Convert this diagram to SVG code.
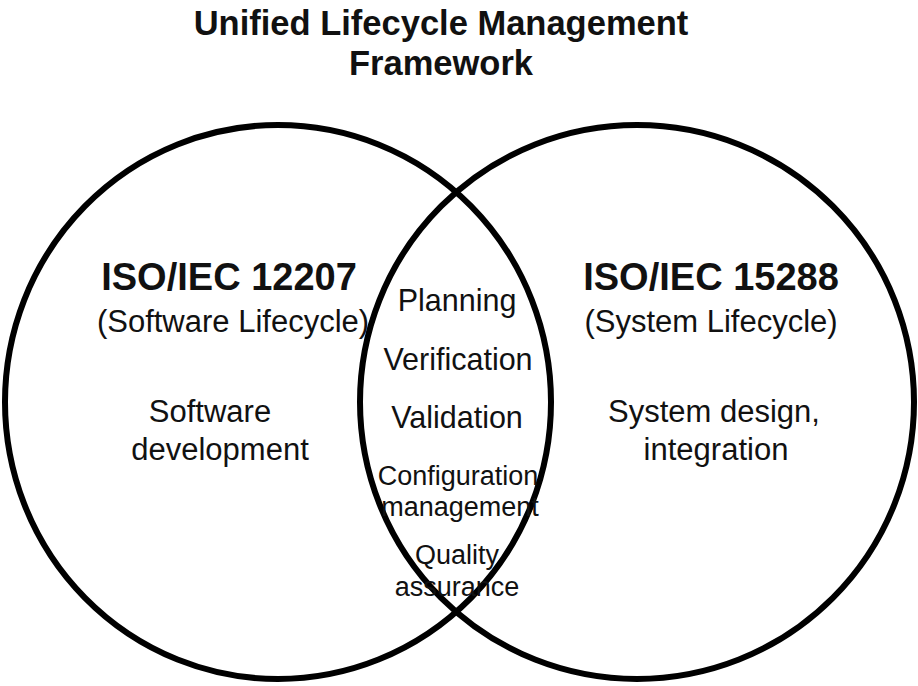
<svg xmlns="http://www.w3.org/2000/svg" width="918" height="686" viewBox="0 0 918 686">
  <style>
    text { font-family: "Liberation Sans", Arial, sans-serif; fill: #111; text-anchor: middle; }
    .title { font-size: 34.5px; font-weight: bold; }
    .std { font-size: 38px; font-weight: bold; }
    .sub { font-size: 31px; }
    .item { font-size: 30.5px; }
    .small { font-size: 27px; }
    .ring { fill: none; stroke: #000; stroke-width: 6; }
  </style>
  <rect width="918" height="686" fill="#fff"/>

  <g id="title">
    <text class="title" x="441" y="35">Unified Lifecycle Management</text>
    <text class="title" x="441" y="75">Framework</text>
  </g>

  <g id="shapes">
    <ellipse id="ring-software" class="ring" cx="278" cy="402" rx="273" ry="277"/>
    <ellipse id="ring-system" class="ring" cx="637" cy="402" rx="277" ry="277"/>
  </g>

  <g id="iso12207">
    <text class="std" x="229" y="290">ISO/IEC 12207</text>
    <text class="sub" x="233" y="332">(Software Lifecycle)</text>
    <text class="sub" x="210" y="422">Software</text>
    <text class="sub" x="220" y="460">development</text>
  </g>

  <g id="iso15288">
    <text class="std" x="711" y="290">ISO/IEC 15288</text>
    <text class="sub" x="711" y="332">(System Lifecycle)</text>
    <text class="sub" x="714" y="422">System design,</text>
    <text class="sub" x="716" y="460">integration</text>
  </g>

  <g id="shared">
    <text class="item" x="457" y="311">Planning</text>
    <text class="item" x="458" y="370">Verification</text>
    <text class="item" x="457" y="428">Validation</text>
    <text class="small" x="458" y="485">Configuration</text>
    <text class="small" x="460" y="516">management</text>
    <text class="small" x="457" y="564">Quality</text>
    <text class="small" x="457" y="596">assurance</text>
  </g>
</svg>
